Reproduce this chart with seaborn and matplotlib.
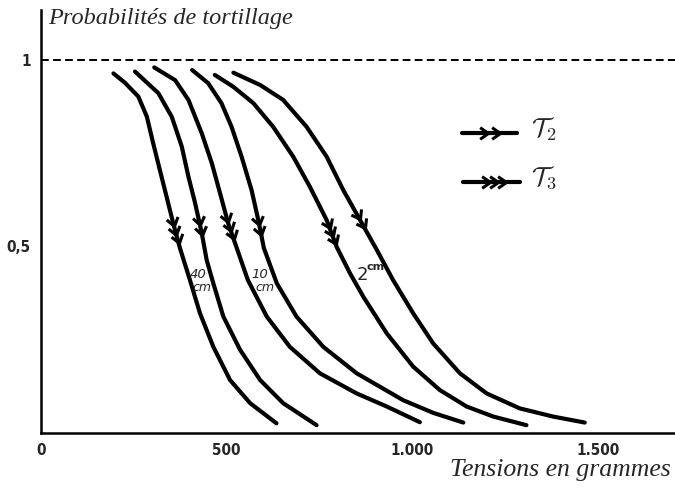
import numpy as np
import pandas as pd
import matplotlib
matplotlib.use("Agg")
import matplotlib.pyplot as plt
import seaborn as sns
from matplotlib.path import Path
from matplotlib.markers import MarkerStyle
from matplotlib.transforms import Affine2D

sns.set_style("white")
plt.rcParams['font.family'] = ['DejaVu Sans']
plt.rcParams['mathtext.fontset'] = 'cm'

# Courbes : tension (g) -> probabilité de tortillage
c1_x = [195, 226, 262, 285, 302, 320, 338, 356, 374, 401, 428, 464, 509, 563, 634]
c1_y = [0.964, 0.939, 0.902, 0.848, 0.777, 0.705, 0.634, 0.562, 0.496, 0.410, 0.321, 0.231, 0.142, 0.080, 0.026]
c2_x = [253, 316, 352, 379, 397, 415, 433, 446, 464, 491, 536, 590, 652, 742]
c2_y = [0.969, 0.911, 0.848, 0.768, 0.687, 0.616, 0.535, 0.464, 0.401, 0.312, 0.223, 0.142, 0.080, 0.021]
c3_x = [305, 361, 397, 433, 460, 482, 504, 527, 557, 608, 670, 751, 850, 931, 1020]
c3_y = [0.980, 0.946, 0.893, 0.803, 0.723, 0.643, 0.562, 0.496, 0.410, 0.312, 0.231, 0.160, 0.106, 0.071, 0.029]
c4_x = [407, 450, 486, 513, 540, 567, 585, 600, 635, 688, 760, 850, 975, 1056, 1137]
c4_y = [0.973, 0.938, 0.884, 0.821, 0.741, 0.651, 0.571, 0.496, 0.401, 0.312, 0.231, 0.160, 0.088, 0.054, 0.028]
c5_x = [468, 518, 572, 625, 679, 724, 769, 796, 832, 868, 931, 1002, 1074, 1146, 1218, 1307]
c5_y = [0.960, 0.928, 0.884, 0.821, 0.741, 0.660, 0.571, 0.499, 0.428, 0.365, 0.267, 0.178, 0.115, 0.071, 0.044, 0.021]
c6_x = [518, 590, 652, 715, 769, 814, 859, 904, 948, 1002, 1056, 1128, 1200, 1289, 1379, 1464]
c6_y = [0.966, 0.933, 0.893, 0.821, 0.741, 0.651, 0.571, 0.491, 0.410, 0.321, 0.240, 0.160, 0.106, 0.066, 0.044, 0.028]

courbes = [(c1_x, c1_y), (c2_x, c2_y), (c3_x, c3_y), (c4_x, c4_y), (c5_x, c5_y), (c6_x, c6_y)]
# flèches : T3 (3 chevrons) a gauche de chaque paire, T2 (2 chevrons) a droite
fleches = [[0.555, 0.532, 0.509], [0.557, 0.531], [0.565, 0.542, 0.519],
           [0.557, 0.532], [0.549, 0.528, 0.507], [0.573, 0.549]]

x_ticks = [0, 500, 1000, 1500]
x_labels = ['0', '500', '1.000', '1.500']
y_ticks = [0.5, 1]
y_labels = ['0,5', '1']

rows = []
for i, (xs, ys) in enumerate(courbes):
    for x, y in zip(xs, ys):
        rows.append({'courbe': i, 'tension': x, 'proba': y})
df = pd.DataFrame(rows)

fig = plt.figure(figsize=(6.75, 4.96), dpi=100)
ax = fig.add_axes([41 / 675, 63 / 496, 634 / 675, 423 / 496])
ax.set_xlim(0, 1707)
ax.set_ylim(0, 1.134)

sns.lineplot(data=df, x='tension', y='proba', units='courbe', estimator=None,
             sort=False, color='black', linewidth=3.0, ax=ax, legend=False,
             solid_capstyle='round', solid_joinstyle='round')

ax.axhline(1, color='black', linewidth=1.4, linestyle=(0, (4, 2.2)))

# chevron pointant vers +x, pointe a l'origine
chev = Path([(-1, 0.7), (0, 0), (-1, -0.7)],
            [Path.MOVETO, Path.LINETO, Path.LINETO])


def chevron(x, y, ang, size=12):
    ms = MarkerStyle(chev, fillstyle='none', transform=Affine2D().rotate(ang))
    ax.plot([x], [y], linestyle='none', marker=ms, markersize=size,
            markeredgecolor='black', markeredgewidth=2.2, clip_on=False)


for (xs, ys), ps in zip(courbes, fleches):
    disp = ax.transData.transform(np.column_stack([xs, ys]))
    ang = np.arctan2(np.gradient(disp[:, 1]), np.gradient(disp[:, 0]))
    for p in ps:
        xp = np.interp(p, ys[::-1], xs[::-1])
        a = np.interp(p, ys[::-1], ang[::-1])
        chevron(xp, p, a)

# legende dessinee a la main
ax.plot([1133, 1281], [0.804, 0.804], color='black', linewidth=3.0)
for xp in [1203, 1236]:
    chevron(xp, 0.804, 0.0)
ax.plot([1136, 1289], [0.674, 0.674], color='black', linewidth=3.0)
for xp in [1208, 1230, 1252]:
    chevron(xp, 0.674, 0.0)
ax.text(1318, 0.815, r'$\mathcal{T}_2$', fontsize=19, va='center')
ax.text(1318, 0.684, r'$\mathcal{T}_3$', fontsize=19, va='center')

# etiquettes des longueurs
ax.text(423, 0.426, '40', fontsize=9.5, style='italic', ha='center', va='center')
ax.text(433, 0.391, 'cm', fontsize=9, style='italic', ha='center', va='center')
ax.text(588, 0.426, '10', fontsize=9.5, style='italic', ha='center', va='center')
ax.text(603, 0.391, 'cm', fontsize=9, style='italic', ha='center', va='center')
ax.text(864, 0.424, '2', fontsize=13, ha='center', va='center')
ax.text(900, 0.444, 'cm', fontsize=8, fontweight='bold', ha='center', va='center')

ax.text(19, 1.112, 'Probabilités de tortillage', fontsize=17.5,
        family='Liberation Serif', style='italic', va='center', ha='left')
fig.text(0.993, 0.052, 'Tensions en grammes', fontsize=18.5,
         family='Liberation Serif', style='italic', va='center', ha='right')

ax.set_xticks(x_ticks)
ax.set_xticklabels(x_labels, fontweight='bold', fontstretch='condensed', fontsize=11)
ax.set_yticks(y_ticks)
ax.set_yticklabels(y_labels, fontweight='bold', fontstretch='condensed', fontsize=11)
ax.tick_params(axis='both', direction='inout', length=7, width=1.4, color='black', pad=4)
ax.set_xlabel('')
ax.set_ylabel('')
for s in ['top', 'right']:
    ax.spines[s].set_visible(False)
for s in ['left', 'bottom']:
    ax.spines[s].set_linewidth(1.8)
    ax.spines[s].set_color('black')

fig.savefig('out.png', dpi=100)
